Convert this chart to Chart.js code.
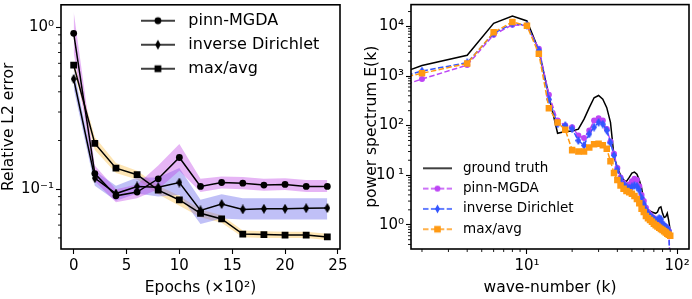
<!DOCTYPE html>
<html>
<head>
<meta charset="utf-8">
<script src="https://cdn.jsdelivr.net/npm/chart.js@4.4.1/dist/chart.umd.min.js"></script>
<style>
  html, body { margin: 0; padding: 0; background: #fff; overflow: hidden; }
  #wrap { position: relative; width: 692px; height: 299px; }
  canvas { position: absolute; top: 0; }
  #loss { left: 0; }
  #spec { left: 346px; }
</style>
</head>
<body>
<div id="wrap">
  <canvas id="loss" width="370" height="299"></canvas>
  <canvas id="spec" width="360" height="299"></canvas>
</div>
<script>
// left panel: relative L2 error against training epochs (x100)
const epochs = [0, 2, 4, 6, 8, 10, 12, 14, 16, 18, 20, 22, 24];
const pinnMGDA = [0.92, 0.125, 0.091, 0.096, 0.116, 0.157, 0.104, 0.110, 0.109, 0.106, 0.107, 0.104, 0.104];
const pinnLow = [0.70, 0.112, 0.083, 0.088, 0.100, 0.130, 0.096, 0.101, 0.100, 0.098, 0.099, 0.096, 0.096];
const pinnHigh = [1.25, 0.140, 0.100, 0.107, 0.140, 0.190, 0.116, 0.120, 0.119, 0.116, 0.117, 0.114, 0.114];
const invDirichlet = [0.48, 0.117, 0.094, 0.104, 0.103, 0.110, 0.074, 0.081, 0.075, 0.0757, 0.0757, 0.0763, 0.0765];
const invLow = [0.42, 0.105, 0.085, 0.094, 0.090, 0.092, 0.061, 0.066, 0.065, 0.065, 0.065, 0.065, 0.065];
const invHigh = [0.55, 0.130, 0.105, 0.118, 0.118, 0.135, 0.086, 0.093, 0.088, 0.088, 0.088, 0.088, 0.088];
const maxAvg = [0.585, 0.192, 0.135, 0.123, 0.0986, 0.0858, 0.071, 0.0655, 0.0528, 0.0524, 0.0521, 0.0521, 0.0507];
const maxLow = [0.55, 0.175, 0.126, 0.115, 0.093, 0.079, 0.067, 0.062, 0.0505, 0.050, 0.050, 0.050, 0.0485];
const maxHigh = [0.62, 0.210, 0.145, 0.130, 0.105, 0.091, 0.075, 0.069, 0.0555, 0.055, 0.0545, 0.0545, 0.053];
const lossNames = ['pinn-MGDA', 'inverse Dirichlet', 'max/avg'];
const epochTicks = [0, 5, 10, 15, 20, 25];
const lossTicks = [0.05, 0.06, 0.07, 0.08, 0.09, 0.1, 0.2, 0.3, 0.4, 0.5, 0.6, 0.7, 0.8, 0.9, 1];
const lossMajor = [0.1, 1];
const lossLabels = ['10⁻¹', '10⁰'];

// right panel: energy spectrum against wave-number
const waveK = [1, 2, 4, 6, 8, 10, 12, 14, 16, 18, 20, 22, 24, 26, 28, 30, 32, 34, 36, 38, 40, 42, 44, 46,
  48, 50, 52, 54, 56, 58, 60, 62, 64, 66, 68, 70, 72, 74, 76, 78, 80, 82, 84, 86, 88, 90];
const groundTruth = [750, 1630, 2620, 11600, 16200, 12900, 3300, 400, 70, 76, 78, 85, 135, 230, 365, 405, 340, 230, 116, 24, 14, 10, 8, 7.5,
  9, 11, 11.5, 10.5, 8, 5.5, 3, 2.3, 2, 1.9, 1.8, 1.75, 1.7, 1.8, 2.2, 2.3, 1.7, 1.4, 1.45, 1.7, 1.2, 0.75];
const specMGDA = [430, 870, 1660, 6800, 10800, 10400, 3560, 420, 126, 100, 93, 63, 56, 80, 126, 140, 126, 85, 48, 27, 14, 9, 7, 6,
  6.5, 7.5, 8.5, 8, 6, 4, 3, 2.2, 1.8, 1.6, 1.45, 1.35, 1.25, 1.2, 1.2, 1.1, 1.0, 0.95, 0.9, 0.85, 0.75, 0.15];
const specInvDir = [700, 1260, 1860, 7250, 11400, 10600, 3300, 340, 108, 100, 86, 50, 40, 68, 93, 116, 107, 80, 45, 25, 13, 8.5, 6.5, 5.8,
  5.5, 5.8, 6.2, 6, 5, 3.5, 2.6, 2, 1.7, 1.5, 1.4, 1.3, 1.2, 1.25, 1.35, 1.3, 1.05, 0.95, 0.9, 0.85, 0.75, 0.12];
const specMaxAvg = [730, 1135, 1790, 7600, 12300, 10300, 2830, 225, 116, 82, 32, 30, 30, 36, 42, 43, 40, 34, 19, 11, 8, 6.2, 5.3, 4.8,
  4.5, 4.2, 3.8, 3.3, 2.7, 2.1, 1.8, 1.5, 1.35, 1.25, 1.15, 1.05, 0.98, 0.92, 0.87, 0.82, 0.78, 0.74, 0.7, 0.66, 0.63, 0.6];
const specNames = ['ground truth', 'pinn-MGDA', 'inverse Dirichlet', 'max/avg'];
const kTicks = [2, 3, 4, 5, 6, 7, 8, 9, 10, 20, 30, 40, 50, 60, 70, 80, 90, 100];
const kMajor = [10, 100];
const kLabels = ['10¹', '10²'];
const eTicks = [0.4, 0.5, 0.6, 0.7, 0.8, 0.9, 1, 2, 3, 4, 5, 6, 7, 8, 9, 10, 20, 30, 40, 50, 60, 70, 80, 90,
  100, 200, 300, 400, 500, 600, 700, 800, 900, 1000, 2000, 3000, 4000, 5000, 6000, 7000, 8000, 9000, 10000, 20000];
const eMajor = [1, 10, 100, 1000, 10000];
const eLabels = ['10⁰', '10\u2009¹', '10²', '10³', '10⁴'];

const PURPLE = '#bd45f5';
const BLUE = '#3355ff';
const ORANGE = '#ff9912';
const DASH = [5.5, 2.4];

Chart.defaults.font.family = '"DejaVu Sans", sans-serif';
Chart.defaults.font.size = 15;
Chart.defaults.color = '#000';

const pts = (xs, ys) => xs.map((x, i) => ({ x, y: ys[i] }));

function diamond(color, w, h) {
  const c = document.createElement('canvas');
  c.width = w; c.height = h;
  const g = c.getContext('2d');
  g.fillStyle = color;
  g.beginPath();
  g.moveTo(w / 2, 0); g.lineTo(w, h / 2); g.lineTo(w / 2, h); g.lineTo(0, h / 2);
  g.closePath(); g.fill();
  return c;
}

// line + marker sample, like a matplotlib legend handle
function legendIcon(color, len, dash, marker, r) {
  const c = document.createElement('canvas');
  c.width = len; c.height = 12;
  const g = c.getContext('2d');
  g.strokeStyle = color; g.fillStyle = color; g.lineWidth = 1.5;
  g.setLineDash(dash);
  g.beginPath(); g.moveTo(0, 6); g.lineTo(len, 6); g.stroke();
  const cx = len / 2;
  if (marker === 'circle') { g.beginPath(); g.arc(cx, 6, r, 0, Math.PI * 2); g.fill(); }
  if (marker === 'square') g.fillRect(cx - r, 6 - r, 2 * r, 2 * r);
  if (marker === 'diamond') {
    g.beginPath();
    g.moveTo(cx, 6 - r); g.lineTo(cx + r * 0.55, 6); g.lineTo(cx, 6 + r); g.lineTo(cx - r * 0.55, 6);
    g.closePath(); g.fill();
  }
  return c;
}

function axis(o) {
  return {
    type: o.type, min: o.min, max: o.max, bounds: 'data',
    afterBuildTicks: s => { s.ticks = o.values.map(v => ({ value: v })); },
    afterFit: s => {
      if (o.horizontal) s.height = o.size; else s.width = o.size;
      // keep the plot box where it is; labels may hang over the edges
      s.paddingTop = 0; s.paddingBottom = 0; s.paddingLeft = 0; s.paddingRight = 0;
    },
    ticks: {
      autoSkip: false, maxRotation: 0, padding: o.horizontal ? 3 : 2, color: '#000',
      callback: v => { const i = o.major.indexOf(v); return i < 0 ? '' : o.labels[i]; }
    },
    grid: {
      drawOnChartArea: false, drawTicks: true, tickLength: 5, tickWidth: 1.1,
      tickColor: c => (c.tick && o.major.includes(c.tick.value)) ? '#000' : 'rgba(0,0,0,0)'
    },
    border: { display: false },
    title: { display: true, text: o.title, padding: 0, color: '#000', font: { size: 15.5 } }
  };
}

// axes frame and short minor ticks
const frame = {
  id: 'frame',
  afterDatasetsDraw(chart) {
    const { ctx, chartArea: a } = chart;
    ctx.save();
    ctx.strokeStyle = '#000';
    ctx.lineWidth = 0.9;
    ['x', 'y'].forEach(id => {
      const s = chart.scales[id];
      s.ticks.forEach(t => {
        if (t.label !== '') return;
        const p = s.getPixelForValue(t.value);
        ctx.beginPath();
        if (id === 'x') { ctx.moveTo(p, a.bottom); ctx.lineTo(p, a.bottom + 3); }
        else { ctx.moveTo(a.left, p); ctx.lineTo(a.left - 3, p); }
        ctx.stroke();
      });
    });
    ctx.lineWidth = 1.6;
    ctx.strokeRect(a.left, a.top, a.right - a.left, a.bottom - a.top);
    ctx.restore();
  }
};

const placeLegend = (x, y) => ({
  id: 'placeLegend',
  afterLayout(chart) {
    const lg = chart.legend;
    lg.left = x; lg.top = y; lg.right = x + lg.width; lg.bottom = chart.height;
  }
});

function legendCfg(names, icons, size, pad, boxW) {
  return {
    position: 'chartArea', align: 'start',
    onClick: () => {},
    labels: {
      usePointStyle: true, pointStyleWidth: boxW, padding: pad, color: '#000',
      font: { size },
      generateLabels: () => names.map((text, i) => ({
        text, pointStyle: icons[i], hidden: false, lineWidth: 0,
        fillStyle: 'rgba(0,0,0,0)', strokeStyle: 'rgba(0,0,0,0)', fontColor: '#000'
      }))
    }
  };
}

const common = {
  responsive: false, animation: false, devicePixelRatio: 1, events: [],
};

// ----- left chart -----
const bands = [
  { hi: pinnHigh, lo: pinnLow, color: 'rgba(190,60,230,0.38)' },
  { hi: invHigh, lo: invLow, color: 'rgba(90,90,235,0.38)' },
  { hi: maxHigh, lo: maxLow, color: 'rgba(250,180,40,0.35)' }
];
const bandSets = bands.flatMap(b => [
  { data: pts(epochs, b.hi), fill: '+1', backgroundColor: b.color, borderColor: 'rgba(0,0,0,0)', borderWidth: 0, pointRadius: 0, order: 5 },
  { data: pts(epochs, b.lo), fill: false, borderColor: 'rgba(0,0,0,0)', borderWidth: 0, pointRadius: 0, order: 5 }
]);
const blackDiamond = diamond('#000', 6, 10);
const lossLine = (data, style, radius) => ({
  data: pts(epochs, data), borderColor: '#000', borderWidth: 1.5, fill: false,
  pointStyle: style, pointRadius: radius, pointBackgroundColor: '#000', pointBorderWidth: 0, order: 1
});

new Chart(document.getElementById('loss'), {
  type: 'line',
  data: {
    datasets: [
      ...bandSets,
      lossLine(pinnMGDA, 'circle', 3.4),
      lossLine(invDirichlet, blackDiamond, 3),
      lossLine(maxAvg, 'rect', 4.8)
    ]
  },
  options: {
    ...common,
    layout: { padding: { left: 0, top: 1, right: 30, bottom: 2 } },
    scales: {
      x: axis({ type: 'linear', min: -1.2, max: 25.2, values: epochTicks, major: epochTicks,
        labels: epochTicks.map(String), title: 'Epochs (×10²)', size: 48, horizontal: true }),
      y: axis({ type: 'logarithmic', min: 0.0427, max: 1.38, values: lossTicks, major: lossMajor,
        labels: lossLabels, title: 'Relative L2 error', size: 61, horizontal: false })
    },
    plugins: {
      tooltip: { enabled: false },
      legend: legendCfg(lossNames, [
        legendIcon('#000', 34, [], 'circle', 3.4),
        legendIcon('#000', 34, [], 'diamond', 5),
        legendIcon('#000', 34, [], 'square', 3.4)
      ], 16, 8, 44.8)
    }
  },
  plugins: [frame, placeLegend(127.5, 4.7)]
});

// ----- right chart -----
const specLine = (data, color, dash, style, radius, order) => ({
  data: pts(waveK, data), borderColor: color, borderWidth: 1.5, borderDash: dash, fill: false,
  pointStyle: style, pointRadius: radius, pointBackgroundColor: color, pointBorderWidth: 0, order
});

new Chart(document.getElementById('spec'), {
  type: 'line',
  data: {
    datasets: [
      specLine(groundTruth, '#000', [], 'circle', 0, 4),
      specLine(specMGDA, PURPLE, DASH, 'circle', 3, 3),
      specLine(specInvDir, BLUE, DASH, diamond(BLUE, 6, 9), 3, 2),
      specLine(specMaxAvg, ORANGE, DASH, 'rect', 4.6, 1)
    ]
  },
  options: {
    ...common,
    layout: { padding: { left: 16.5, top: 1, right: 17, bottom: 2 } },
    scales: {
      x: axis({ type: 'logarithmic', min: 1.69, max: 120, values: kTicks, major: kMajor,
        labels: kLabels, title: 'wave-number (k)', size: 48, horizontal: true }),
      y: axis({ type: 'logarithmic', min: 0.324, max: 27600, values: eTicks, major: eMajor,
        labels: eLabels, title: 'power spectrum E(k)', size: 48.5, horizontal: false })
    },
    plugins: {
      tooltip: { enabled: false },
      legend: legendCfg(specNames, [
        legendIcon('#000', 29, [], null, 0),
        legendIcon(PURPLE, 29, DASH, 'circle', 3),
        legendIcon(BLUE, 29, DASH, 'diamond', 4.5),
        legendIcon(ORANGE, 29, DASH, 'square', 3.3)
      ], 13.5, 6.8, 37.5)
    }
  },
  plugins: [frame, placeLegend(65.95, 154.75)]
});
</script>
</body>
</html>
